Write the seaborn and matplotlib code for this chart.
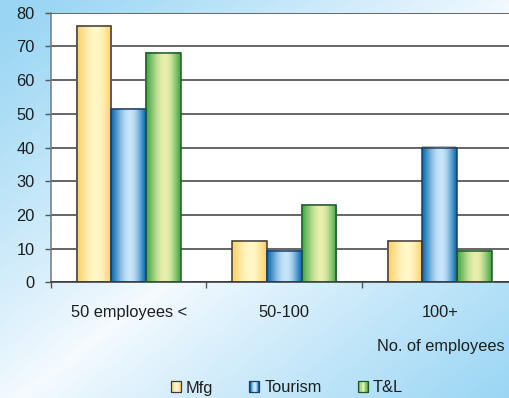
import numpy as np
import pandas as pd
import matplotlib
matplotlib.use("Agg")
import matplotlib.pyplot as plt
import seaborn as sns
from matplotlib.colors import to_rgb
from matplotlib.legend_handler import HandlerBase
from matplotlib.patches import Rectangle

# ---- data ----
categories = ["50 employees <", "50-100", "100+"]
series = ["Mfg", "Tourism", "T&L"]
mfg = [76, 12.3, 12.3]
tourism = [51.3, 9.2, 40]
tl = [68, 22.8, 9.2]
y_ticks = [0, 10, 20, 30, 40, 50, 60, 70, 80]
x_title = "No. of employees"

# ---- styling ----
edge_light = {
    "Mfg": ("#ffcf6c", "#fff8c6", "#3a3a3a"),
    "Tourism": ("#0a6cb2", "#c8e5f9", "#1d3f66"),
    "T&L": ("#45a847", "#e8efac", "#1f5a2a"),
}
text_color = "#1e1e1e"
fs = 11.8

sns.set_theme(style="white")
plt.rcParams["font.family"] = ["Liberation Sans", "DejaVu Sans"]


def gradient_row(edge, light, n=64, peak=0.55):
    t = np.linspace(0, 1, n)
    w = np.where(t < peak, t / peak, (1 - t) / (1 - peak))
    w = np.sin(w * np.pi / 2) ** 1.2
    e = np.array(to_rgb(edge))
    l = np.array(to_rgb(light))
    return (e[None, :] * (1 - w[:, None]) + l[None, :] * w[:, None])


W, H = 510, 398
fig = plt.figure(figsize=(W / 100, H / 100), dpi=100)

# figure background: diagonal blue-white-blue wash
bg = fig.add_axes([0, 0, 1, 1])
bg.set_zorder(-10)
yy, xx = np.mgrid[0:1:200j, 0:1:256j]
tt = (xx + yy) / 2
f = np.clip(np.abs(tt - 0.52) / 0.48, 0, 1) ** 0.9
blue = np.array(to_rgb("#9ad6f4"))
white = np.array(to_rgb("#f6fbff"))
img = white[None, None, :] * (1 - f[..., None]) + blue[None, None, :] * f[..., None]
bg.imshow(img, extent=[0, 1, 0, 1], aspect="auto", origin="upper")
bg.set_axis_off()

ax = fig.add_axes([51 / W, (H - 282.3) / H, 466.5 / W, 269.6 / H])
ax.set_facecolor("white")

df = pd.DataFrame({
    "category": np.repeat(categories, len(series)),
    "series": series * len(categories),
    "value": [v for trio in zip(mfg, tourism, tl) for v in trio],
})
sns.barplot(data=df, x="category", y="value", hue="series",
            order=categories, hue_order=series, width=0.67,
            palette=[edge_light[s][0] for s in series], saturation=1,
            legend=False, ax=ax)

# cylinder-style shading on each bar, with a faint drop shadow
for s, cont in zip(series, ax.containers):
    edge, light, outline = edge_light[s]
    row = gradient_row(edge, light)[None, :, :]
    for bar in cont:
        x0, w, h = bar.get_x(), bar.get_width(), bar.get_height()
        ax.add_patch(Rectangle((x0 - 0.004, 0), w, h + 0.35,
                               facecolor="#b8b8b8", edgecolor="none",
                               zorder=1.9))
        ax.imshow(row, extent=[x0, x0 + w, 0, h], aspect="auto",
                  interpolation="bilinear", zorder=2)
        bar.set_facecolor("none")
        bar.set_edgecolor(outline)
        bar.set_linewidth(1.1)
        bar.set_zorder(3)

ax.set_xlim(-0.5, 2.5)
ax.set_ylim(0, 80)
ax.set_yticks(y_ticks)
ax.set_xticks(range(len(categories)), categories)
ax.set_xticks([-0.5, 0.5, 1.5, 2.5], minor=True)
ax.set_xlabel("")
ax.set_ylabel("")
ax.set_axisbelow(True)
ax.yaxis.grid(True, color="#3c3c3c", linewidth=1.1)
ax.xaxis.grid(False)

ax.tick_params(axis="y", left=True, length=4.5, width=1, color="#555555",
               pad=7.2, labelsize=fs, labelcolor=text_color)
ax.tick_params(axis="x", which="major", bottom=False, length=0, pad=16.5,
               labelsize=fs, labelcolor=text_color)
ax.tick_params(axis="x", which="minor", bottom=True, length=4, width=1,
               color="#555555", direction="out")

for side in ("top", "right"):
    ax.spines[side].set_visible(False)
ax.spines["left"].set_color("#777777")
ax.spines["left"].set_linewidth(1.1)
ax.spines["bottom"].set_color("#333333")
ax.spines["bottom"].set_linewidth(1.1)

fig.text(505 / W, 1 - 347 / H, x_title, ha="right", va="center",
         fontsize=fs, color=text_color)


# legend swatches with the same shading
class GradientSwatch(HandlerBase):
    def __init__(self, edge, light, outline):
        super().__init__()
        self.cols = gradient_row(edge, light, n=8)
        self.outline = outline

    def create_artists(self, legend, orig_handle, xdescent, ydescent,
                       width, height, fontsize, trans):
        arts = []
        n = len(self.cols)
        for k, c in enumerate(self.cols):
            arts.append(Rectangle((-xdescent + width * k / n, -ydescent),
                                  width / n + 0.01, height, facecolor=c,
                                  edgecolor="none", transform=trans))
        arts.append(Rectangle((-xdescent, -ydescent), width, height,
                              facecolor="none", edgecolor=self.outline,
                              linewidth=0.9, transform=trans))
        return arts


em = fs * 100 / 72
handles = [Rectangle((0, 0), 1, 1) for _ in series]
hmap = {h: GradientSwatch(*edge_light[s]) for h, s in zip(handles, series)}
leg = fig.legend(handles, series, handler_map=hmap, loc="center",
                 bbox_to_anchor=(287 / W, 1 - 388 / H), ncol=3, frameon=False,
                 fontsize=fs, handlelength=10 / em, handleheight=10 / em,
                 handletextpad=5 / em, columnspacing=36 / em)
for t in leg.get_texts():
    t.set_color(text_color)

fig.savefig("out.png", dpi=100)
